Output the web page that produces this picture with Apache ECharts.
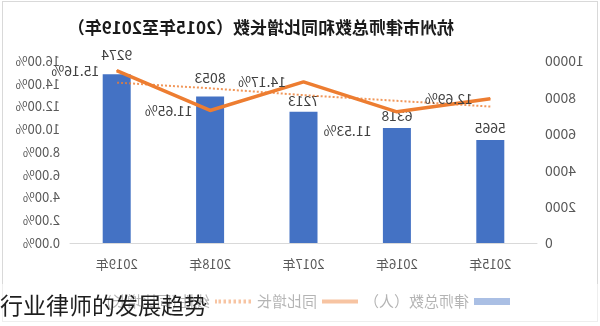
<!DOCTYPE html>
<html>
<head>
<meta charset="utf-8">
<script src="https://cdn.jsdelivr.net/npm/echarts@6/dist/echarts.min.js"></script>
<style>
  html, body { margin: 0; padding: 0; background: #fff; }
  #wrap { position: relative; width: 600px; height: 326px; overflow: hidden; }
  #frame { position: absolute; left: 2px; top: 1px; width: 594px; height: 319px; border: 1px solid #d9d9d9; }
  #chart { position: absolute; left: 0; top: 0; width: 600px; height: 326px; transform: scaleX(-1); }
  #caption { position: absolute; left: 0; top: 284px; width: 600px; height: 42px;
    background: rgba(255,255,255,0.55); font-family: "Noto Sans CJK SC", sans-serif;
    font-size: 23px; line-height: 40px; color: #1e1e1e; white-space: nowrap; }
</style>
</head>
<body>
<div id="wrap">
  <div id="frame"></div>
  <div id="chart"></div>
  <div id="caption">行业律师的发展趋势</div>
</div>
<script>
const titleText = '杭州市律师总数和同比增长数（2015年至2019年）';
const years = ['2015年', '2016年', '2017年', '2018年', '2019年'];
const lawyers = [5665, 6318, 7213, 8053, 9274];
const growth = [12.69, 11.53, 14.17, 11.65, 15.16];
const trend = [12.0, 12.5, 13.0, 13.6, 14.1];
const seriesNames = ['律师总数（人）', '同比增长', '线性 (同比增长)'];

const barLabelDist = [5, 5, 4, 12, 13];
const lineLabelOffset = [[0, 0], [8, 19], [0, 0], [0, 0], [0, 0]];

const solidIcon = 'path://M0,0H36V4H0Z';
const dottedIcon = 'path://M0,0H2.5V4H0Z M5,0H7.5V4H5Z M10,0H12.5V4H10Z M15,0H17.5V4H15Z M20,0H22.5V4H20Z M25,0H27.5V4H25Z M30,0H32.5V4H30Z M34,0H36V4H34Z';

const font = '"Noto Sans CJK SC", "Noto Sans", sans-serif';
const chart = echarts.init(document.getElementById('chart'), null, { renderer: 'canvas' });
chart.setOption({
  animation: false,
  textStyle: { fontFamily: font },
  title: {
    text: titleText, left: 141, top: 14,
    textStyle: { fontSize: 17, fontWeight: 'bold', color: '#1a1a1a', fontFamily: font }
  },
  legend: {
    left: 85, top: 289, itemWidth: 36, itemHeight: 7, itemGap: 6,
    textStyle: { fontSize: 15, color: '#595959', fontFamily: font },
    data: [
      { name: seriesNames[0], icon: 'rect' },
      { name: seriesNames[1], icon: solidIcon },
      { name: seriesNames[2], icon: dottedIcon }
    ]
  },
  grid: { left: 63, right: 70, top: 61, bottom: 83 },
  xAxis: {
    type: 'category', data: years,
    axisLine: { lineStyle: { color: '#d9d9d9', width: 1 } },
    axisTick: { show: false },
    axisLabel: { color: '#595959', fontSize: 13, margin: 15 }
  },
  yAxis: [
    {
      type: 'value', min: 0, max: 10000, interval: 2000,
      splitLine: { show: false }, axisLine: { show: false }, axisTick: { show: false },
      axisLabel: { color: '#595959', fontSize: 14, margin: 8, formatter: v => String(v) }
    },
    {
      type: 'value', min: 0, max: 16, interval: 2,
      splitLine: { show: false }, axisLine: { show: false }, axisTick: { show: false },
      axisLabel: { color: '#595959', fontSize: 13, margin: 10, formatter: v => v.toFixed(2) + '%' }
    }
  ],
  series: [
    {
      name: seriesNames[0], type: 'bar', yAxisIndex: 0, barWidth: 28,
      itemStyle: { color: '#4472C4' },
      data: lawyers.map((v, i) => ({
        value: v,
        label: { show: true, position: 'top', distance: barLabelDist[i], color: '#404040', fontSize: 14 }
      }))
    },
    {
      name: seriesNames[1], type: 'line', yAxisIndex: 1, z: 5,
      symbol: 'circle', symbolSize: 1, showSymbol: true,
      lineStyle: { color: '#ED7D31', width: 3.5 },
      itemStyle: { color: '#ED7D31' },
      data: growth.map((v, i) => ({
        value: v,
        label: { show: true, position: 'right', distance: 17, offset: lineLabelOffset[i],
          color: '#404040', fontSize: 14, formatter: p => p.value.toFixed(2) + '%' }
      }))
    },
    {
      name: seriesNames[2], type: 'line', yAxisIndex: 1, symbol: 'none', z: 4,
      lineStyle: { color: '#ED7D31', width: 2, type: 'dotted', opacity: 0.8 },
      itemStyle: { color: '#ED7D31' },
      data: trend
    }
  ]
});
</script>
</body>
</html>
